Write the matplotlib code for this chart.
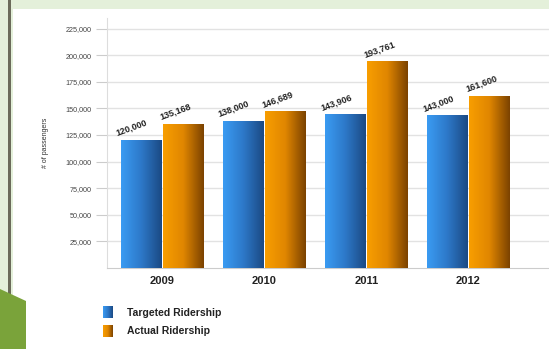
import matplotlib.pyplot as plt
import numpy as np
from matplotlib.colors import LinearSegmentedColormap
from matplotlib.patches import Rectangle, Polygon

plt.rcParams['font.family'] = ['Liberation Sans', 'DejaVu Sans']

years = ['2009', '2010', '2011', '2012']
targeted = [120000, 138000, 143906, 143000]
actual = [135168, 146689, 193761, 161600]
value_labels_t = ['120,000', '138,000', '143,906', '143,000']
value_labels_a = ['135,168', '146,689', '193,761', '161,600']
yticks = [25000, 50000, 75000, 100000, 125000, 150000, 175000, 200000, 225000]
ytick_labels = ['25,000', '50,000', '75,000', '100,000', '125,000',
                '150,000', '175,000', '200,000', '225,000']

blue_cmap = LinearSegmentedColormap.from_list('blue', ['#3a9bf2', '#2d78c8', '#1b4a84'])
orange_cmap = LinearSegmentedColormap.from_list('orange', ['#f89e00', '#e08600', '#7c4300'])
grad = np.linspace(0, 1, 64).reshape(1, -1)

fig = plt.figure(figsize=(5.49, 3.49), dpi=100)
fig.patch.set_facecolor('#e4f0da')

# white slide panel, left rule and the green corner shape (kept behind the axes)
fig.patches.append(Rectangle((13 / 549, 0), 1, 1 - 9 / 349, transform=fig.transFigure,
                             facecolor='white', edgecolor='none', zorder=-3))
fig.patches.append(Rectangle((8 / 549, 0), 2.5 / 549, 1, transform=fig.transFigure,
                             facecolor='#6b6b5a', edgecolor='none', zorder=-2))
fig.patches.append(Polygon([(0, 0), (0, 60 / 349), (26 / 549, 48 / 349), (26 / 549, 0)],
                           closed=True, transform=fig.transFigure,
                           facecolor='#7aa33a', edgecolor='none', zorder=-1))

ax = fig.add_axes([107 / 549, 81 / 349, 442 / 549, 250 / 349])
ax.set_facecolor('none')

width = 0.4
gap = 0.01
for i in range(len(years)):
    x0 = i - width - gap / 2
    x1 = i + gap / 2
    ax.imshow(grad, cmap=blue_cmap, extent=(x0, x0 + width, 0, targeted[i]),
              aspect='auto', zorder=3, interpolation='bilinear')
    ax.imshow(grad, cmap=orange_cmap, extent=(x1, x1 + width, 0, actual[i]),
              aspect='auto', zorder=3, interpolation='bilinear')
    ax.annotate(value_labels_t[i], (x0, targeted[i]), xytext=(-2, 2),
                textcoords='offset points', rotation=20, rotation_mode='anchor',
                ha='left', va='bottom', fontsize=6.5, fontweight='bold', color='#222222')
    ax.annotate(value_labels_a[i], (x1, actual[i]), xytext=(-1, 2),
                textcoords='offset points', rotation=20, rotation_mode='anchor',
                ha='left', va='bottom', fontsize=6.5, fontweight='bold', color='#222222')

ax.set_xlim(-0.54, 3.79)
ax.set_ylim(0, 235000)
ax.set_yticks(yticks)
ax.set_yticklabels(ytick_labels, fontsize=5.2, color='#444444')
ax.set_xticks(range(len(years)))
ax.set_xticklabels(years, fontsize=8, fontweight='bold', color='#222222')
ax.tick_params(axis='y', length=8, color='#cccccc', pad=3)
ax.tick_params(axis='x', length=0, pad=6)
ax.grid(axis='y', color='#e2e2e2', linewidth=1, zorder=0)
ax.set_axisbelow(True)
for side in ['top', 'right']:
    ax.spines[side].set_visible(False)
ax.spines['left'].set_color('#dddddd')
ax.spines['bottom'].set_color('#cccccc')
ax.set_ylabel('# of passengers', fontsize=5, color='#333333', labelpad=12)

# legend with gradient swatches
legend_items = [('Targeted Ridership', blue_cmap, 306), ('Actual Ridership', orange_cmap, 325)]
for text, cmap, top in legend_items:
    sw = fig.add_axes([103 / 549, (349 - top - 12) / 349, 10 / 549, 12 / 349])
    sw.imshow(grad, cmap=cmap, aspect='auto', interpolation='bilinear')
    sw.axis('off')
    fig.text(127 / 549, (349 - top - 6.5) / 349, text, fontsize=7.5, fontweight='bold',
             color='#222222', va='center', ha='left')

fig.savefig('out.png', dpi=100, facecolor=fig.get_facecolor())
